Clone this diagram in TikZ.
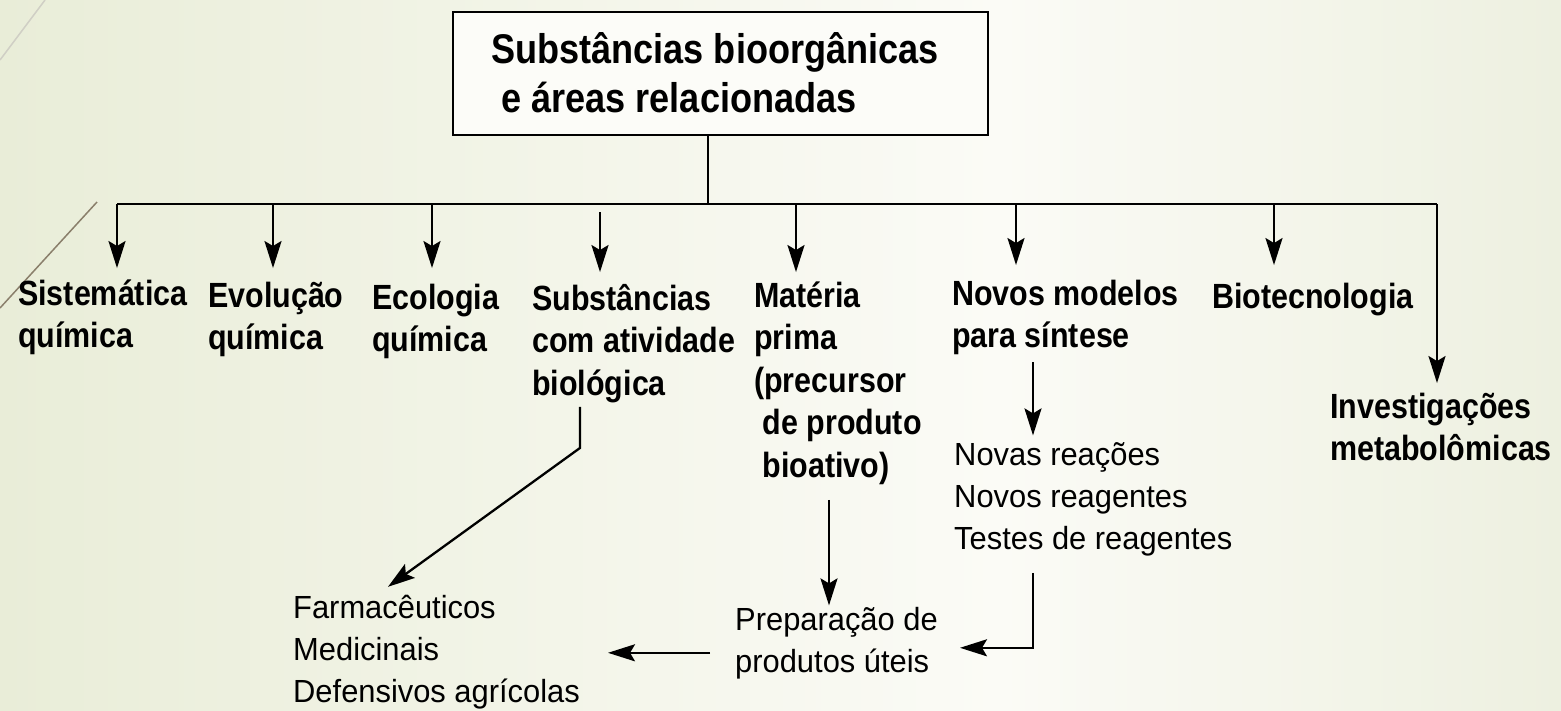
\documentclass[tikz,border=0pt]{standalone}
\usepackage{fontspec}
\setmainfont{Liberation Sans}
\newfontfamily\bfnt{Liberation Sans}[FakeStretch=0.87]
\newfontfamily\rgfnt{Liberation Sans}[FakeStretch=0.965]
\usetikzlibrary{arrows.meta,calc}
\definecolor{bgL}{RGB}{233,237,216}
\definecolor{bgM}{RGB}{251,251,246}
\definecolor{bgR}{RGB}{237,240,224}
\definecolor{boxfill}{RGB}{252,252,248}
\definecolor{wispA}{RGB}{208,207,197}
\definecolor{wispB}{RGB}{138,127,107}
\pgfdeclarehorizontalshading{bgsh}{100bp}{color(0bp)=(bgL); color(25bp)=(bgL); color(57bp)=(bgM); color(75bp)=(bgR); color(100bp)=(bgR)}
\newcommand\mlines[1]{\begin{tabular}[t]{@{}l@{}}#1\end{tabular}}
\newcommand\tlines[1]{\begin{tabular}[t]{@{}l@{\hspace{11pt}}}#1\end{tabular}}
\begin{document}
\begin{tikzpicture}[x=1pt,y=-1pt,
  lbl/.style={inner sep=0pt, anchor=base west, font=\bfnt\bfseries\fontsize{35}{42.5}\selectfont},
  txt/.style={inner sep=0pt, anchor=base west, font=\rgfnt\fontsize{32}{42}\selectfont},
  link/.style={line width=2.3pt, black},
  arr/.style={link, -{Stealth[length=27pt,width=17pt,inset=5pt]}}]
\useasboundingbox (0,0) rectangle (1561,710);
\fill[shading=bgsh] (0,0) rectangle (1561,710);
\draw[wispA, line width=1.5pt] (45,0) -- (0,60);
\draw[wispB, line width=1.5pt] (97,202) -- (0,308);

\node[draw, line width=2.3pt, fill=boxfill, minimum width=535pt, minimum height=123pt, inner sep=0pt,
  text height=38.5pt, text depth=59.5pt, font=\bfnt\bfseries\fontsize{41.5}{49}\selectfont]
  (title) at (720.5,73.5) {\tlines{Substâncias bioorgânicas\\\ e áreas relacionadas}};

\node[lbl] (sist) at (18,305) {\mlines{Sistemática\\química}};
\node[lbl] (evol) at (208,307) {\mlines{Evolução\\química}};
\node[lbl] (ecol) at (372,309) {\mlines{Ecologia\\química}};
\node[lbl] (subs) at (532,310) {\mlines{Substâncias\\com atividade\\biológica}};
\node[lbl] (mate) at (754,307) {\mlines{Matéria\\prima\\(precursor\\\ de produto\\\ bioativo)}};
\node[lbl] (novos) at (952,305) {\mlines{Novos modelos\\para síntese}};
\node[lbl] (bio) at (1212,308) {\mlines{Biotecnologia}};
\node[lbl] (inv) at (1330,418) {\mlines{Investigações\\metabolômicas}};

\node[txt] (farm) at (293,618) {\mlines{Farmacêuticos\\Medicinais\\Defensivos agrícolas}};
\node[txt] (prep) at (735,630) {\mlines{Preparação de\\produtos úteis}};
\node[txt] (novas) at (954,465) {\mlines{Novas reações\\Novos reagentes\\Testes de reagentes}};

\coordinate (hub) at (708,204);
\coordinate (b1) at (117,204);
\coordinate (b2) at (273,204);
\coordinate (b3) at (432,204);
\coordinate (b4) at (600,204);
\coordinate (b5) at (796,204);
\coordinate (b6) at (1016,204);
\coordinate (b7) at (1274,204);
\coordinate (b8) at (1437,204);

\draw[link] (title.south -| hub) -- (hub);
\draw[link] (b1) -- (b8);
\draw[arr, shorten >=7pt] (b1) -- (b1 |- sist.north);
\draw[arr, shorten >=9pt] (b2) -- (b2 |- evol.north);
\draw[arr, shorten >=11pt] (b3) -- (b3 |- ecol.north);
\draw[arr, shorten >=8pt] ([yshift=-8pt]b4) -- (b4 |- subs.north);
\draw[arr, shorten >=5pt] (b5) -- (b5 |- mate.north);
\draw[arr, shorten >=10pt] (b6) -- (b6 |- novos.north);
\draw[arr, shorten >=13pt] (b7) -- (b7 |- bio.north);
\draw[arr, shorten >=5pt] (b8) -- (b8 |- inv.north);

\draw[arr] ($(subs.south west)+(48,-1)$) -- ++(0,41) -- ($(farm.north west)+(95,-1.6)$);
\draw[arr] ($(mate.south west)+(75,10)$) -- ($(prep.north west)+(94,5)$);
\draw[arr] ($(prep.north west)+(-25,52.4)$) -- ($(farm.north west)+(315,64.4)$);
\draw[arr] ($(novos.south west)+(81,2)$) -- ($(novas.north west)+(79,0)$);
\draw[arr] ($(novas.south west)+(79,11)$) |- ($(prep.north west)+(225,47.4)$);
\end{tikzpicture}
\end{document}
